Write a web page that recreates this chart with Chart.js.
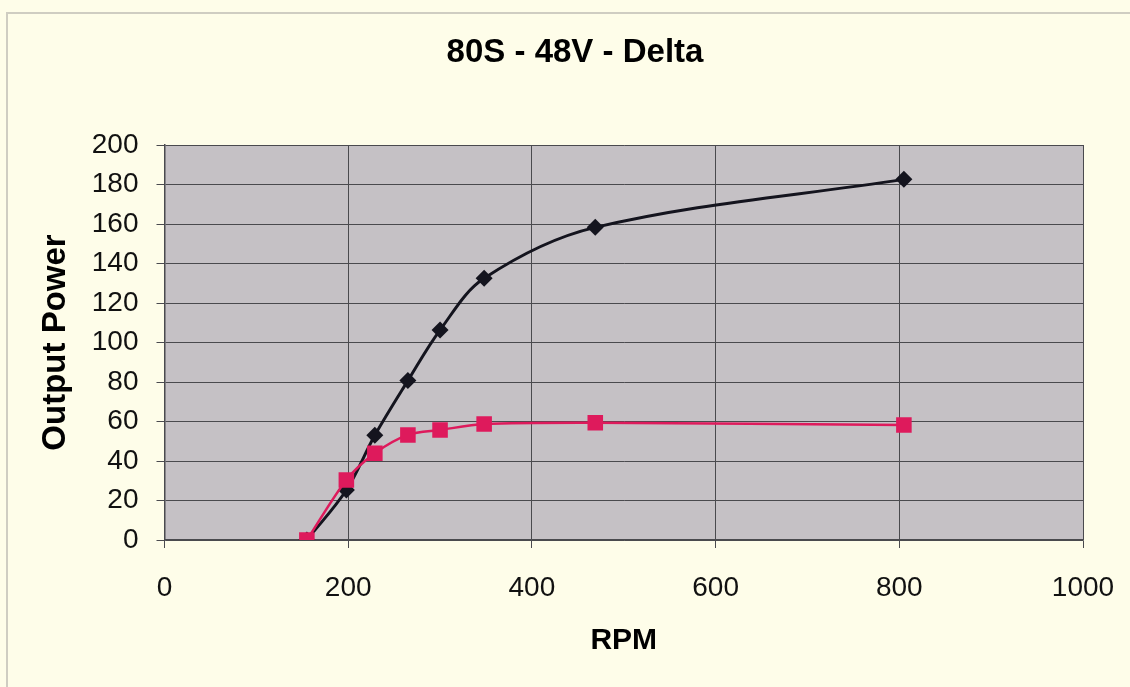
<!DOCTYPE html>
<html>
<head>
<meta charset="utf-8">
<title>80S - 48V - Delta</title>
<script src="https://cdn.jsdelivr.net/npm/chart.js@4.4.1/dist/chart.umd.min.js"></script>
<style>
  html, body { margin: 0; padding: 0; background: #fefde9; }
  #wrap { position: relative; width: 1130px; height: 687px; overflow: hidden; }
  #frame {
    position: absolute; left: 6px; top: 12px; right: -4px; bottom: -4px;
    border-top: 2px solid #cfcdc2; border-left: 2px solid #cfcdc2;
  }
  canvas { position: absolute; left: 0; top: 0; }
</style>
</head>
<body>
<div id="wrap">
  <div id="frame"></div>
  <canvas id="chart" width="1130" height="687"></canvas>
</div>
<script>
// vitesse (tr/min) et puissance de sortie mesurées
const rpm = [155, 198, 229, 265, 300, 348, 469, 805];
const powerMax = [0, 25.3, 53, 80.7, 106.3, 132.5, 158.3, 182.6];
const powerRated = [0, 30.4, 43.9, 53.2, 55.7, 58.7, 59.4, 58.2];

const xTicks = [0, 200, 400, 600, 800, 1000];
const yTicks = [0, 20, 40, 60, 80, 100, 120, 140, 160, 180, 200];

const chartTitle = '80S - 48V - Delta';

const toPoints = (xs, ys) => xs.map((x, i) => ({ x: x, y: ys[i] }));

const FONT = "'Liberation Sans', Arial, Helvetica, sans-serif";
const GRID = '#4a4a4e';

// fond gris de la zone de tracé
const plotBackground = {
  id: 'plotBackground',
  beforeDraw(chart) {
    const { ctx, chartArea: a } = chart;
    ctx.save();
    ctx.fillStyle = '#c5c1c5';
    ctx.fillRect(a.left, a.top, a.right - a.left, a.bottom - a.top);
    ctx.restore();
  }
};

// titre centré un peu à gauche de la zone de tracé
const titleText = {
  id: 'titleText',
  afterDraw(chart) {
    const ctx = chart.ctx;
    ctx.save();
    ctx.fillStyle = '#000';
    ctx.font = 'bold 33px ' + FONT;
    ctx.textAlign = 'center';
    ctx.textBaseline = 'middle';
    ctx.fillText(chartTitle, 575, 53);
    ctx.restore();
  }
};

new Chart(document.getElementById('chart'), {
  type: 'line',
  data: {
    datasets: [
      {
        data: toPoints(rpm, powerRated),
        borderColor: '#de1a5c',
        backgroundColor: '#de1a5c',
        borderWidth: 2.5,
        pointStyle: 'rect',
        pointRadius: 11,
        pointBorderWidth: 0,
        tension: 0.3,
        fill: false
      },
      {
        data: toPoints(rpm, powerMax),
        borderColor: '#14141e',
        backgroundColor: '#14141e',
        borderWidth: 3,
        pointStyle: 'rectRot',
        pointRadius: 8.5,
        pointBorderWidth: 0,
        tension: 0.35,
        fill: false
      }
    ]
  },
  options: {
    responsive: false,
    devicePixelRatio: 1,
    animation: false,
    layout: { padding: { top: 145, right: 47, bottom: 0, left: 0 } },
    plugins: {
      legend: { display: false },
      tooltip: { enabled: false },
      title: { display: false }
    },
    scales: {
      x: {
        type: 'linear',
        min: 0,
        max: 1000,
        afterFit(scale) {
          scale.height = 147;
          scale.paddingLeft = 0;
          scale.paddingRight = 0;
        },
        afterBuildTicks(scale) { scale.ticks = xTicks.map(v => ({ value: v })); },
        grid: { color: GRID, lineWidth: 1, tickLength: 8, tickColor: GRID },
        border: { color: GRID, width: 1.5 },
        ticks: {
          color: '#111',
          font: { family: FONT, size: 28 },
          padding: 23,
          maxRotation: 0,
          callback: v => String(v)
        },
        title: {
          display: true,
          text: 'RPM',
          color: '#000',
          font: { family: FONT, size: 30, weight: 'bold', lineHeight: 1.2 },
          padding: { top: 0, bottom: 28 }
        }
      },
      y: {
        type: 'linear',
        min: 0,
        max: 200,
        afterFit(scale) {
          scale.width = 164.5;
          scale.paddingTop = 0;
          scale.paddingBottom = 0;
        },
        afterBuildTicks(scale) { scale.ticks = yTicks.map(v => ({ value: v })); },
        grid: { color: GRID, lineWidth: 1, tickLength: 8, tickColor: GRID },
        border: { color: GRID, width: 1.5 },
        ticks: {
          color: '#111',
          font: { family: FONT, size: 28 },
          padding: 18,
          callback: v => String(v)
        },
        title: {
          display: true,
          text: 'Output Power',
          color: '#000',
          font: { family: FONT, size: 33, weight: 'bold', lineHeight: 1.2 },
          padding: { top: 36, bottom: 0 }
        }
      }
    }
  },
  plugins: [plotBackground, titleText]
});
</script>
</body>
</html>
